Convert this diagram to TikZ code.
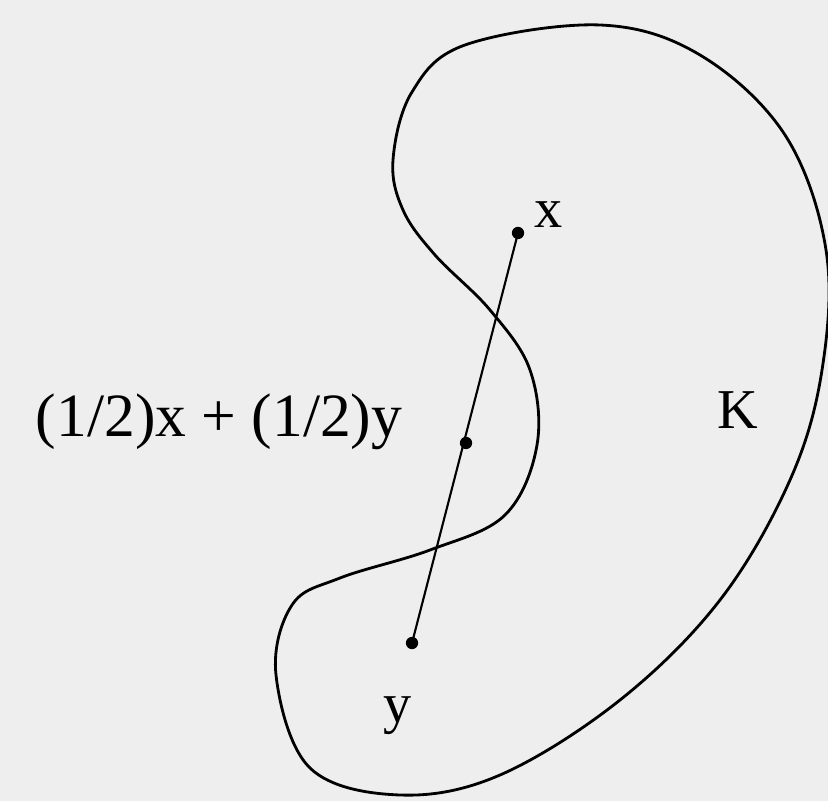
\documentclass[tikz,border=0pt]{standalone}
\usepackage{fontspec}
\setmainfont{Liberation Serif}
\usepackage{tikz}
\usetikzlibrary{positioning}
\definecolor{bggray}{HTML}{EEEEEE}

\begin{document}
\begin{tikzpicture}[
  x=0.01cm, y=-0.01cm,
  dot/.style={circle, fill=black, inner sep=0pt, minimum size=3.5pt},
  lbl/.style={font=\fontsize{16}{19}\selectfont, inner sep=1pt},
]
  % background and bounds
  \fill[bggray] (0,0) rectangle (828,801);
  \useasboundingbox (0,0) rectangle (828,801);

  % the set K
  \draw[line width=0.8pt] plot[smooth cycle, tension=0.6] coordinates {
    (393,160) (412,92) (465,45) (600,25) (700,55) (785,135) (826,250)
    (822,370) (790,480) (720,600) (620,700) (500,775) (400,795)
    (310,768) (276,675) (292,605) (340,578) (430,550) (505,515)
    (537,445) (530,370) (490,310) (435,255) (403,210)};

  % points
  \node[dot] (x) at (518,233) {};
  \node[dot] (m) at (466,443) {};
  \node[dot] (y) at (412,643) {};
  \draw[line width=0.6pt] (x.center) -- (y.center);

  % labels
  \node[lbl, above right=-1pt and 2pt of x] (xl) {x};
  \node[lbl, below=12pt of y, xshift=-4pt] (yl) {y};
  \node[lbl, font=\fontsize{17.5}{20}\selectfont, left=15pt of m, yshift=6pt] (ml) {(1/2)x + (1/2)y};
  \node[lbl] (kl) at (738,410) {K};
\end{tikzpicture}
\end{document}
